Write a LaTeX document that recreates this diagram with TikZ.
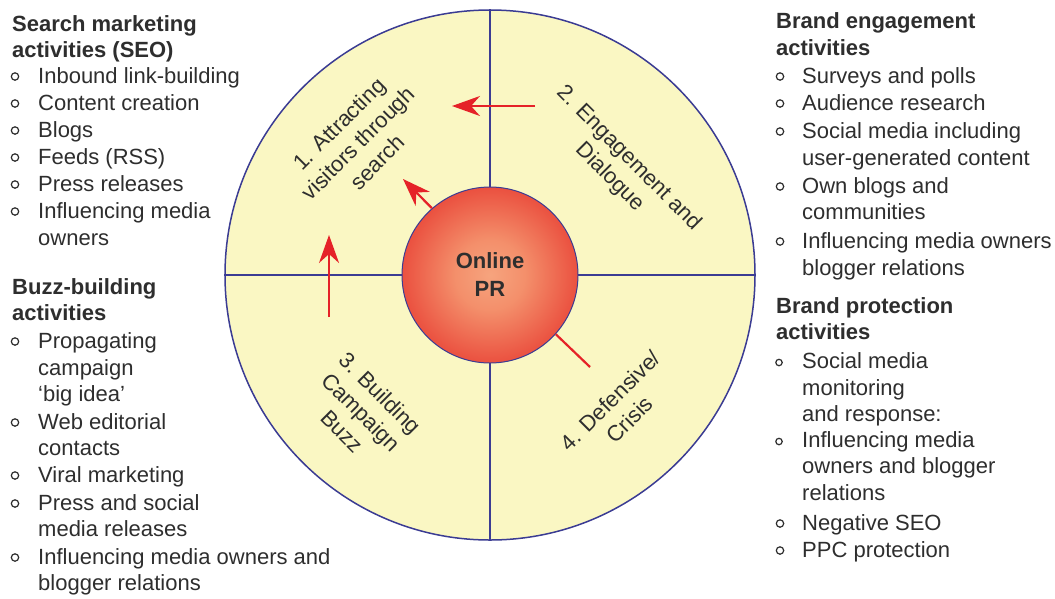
\documentclass[tikz,border=0pt]{standalone}
\usepackage{fontspec}
\setmainfont{Liberation Sans}
\usetikzlibrary{arrows.meta}
\definecolor{wheelfill}{HTML}{FAF7C3}
\definecolor{wheelline}{HTML}{3B3C93}
\definecolor{txt}{HTML}{2E2E2E}
\definecolor{arrowred}{HTML}{E52228}
\definecolor{prA}{HTML}{F6A47E}
\definecolor{prB}{HTML}{EE5E3E}
\definecolor{prC}{HTML}{E21F26}
\pgfdeclareradialshading{prshade}{\pgfpoint{0bp}{0bp}}{color(0bp)=(prA); color(10bp)=(prA!70!prB); color(30bp)=(prB!45!prC); color(50bp)=(prC)}
\tikzset{
  body/.style={font=\fontsize{22}{27}\selectfont, text=txt, inner sep=0pt, anchor=base west},
  head/.style={body, font=\fontsize{22}{27}\selectfont\bfseries},
  dot/.style={draw=txt, line width=1.2pt},
  phase/.style={font=\fontsize{22}{27}\selectfont, text=txt, align=center, inner sep=0pt},
  redarrow/.style={draw=arrowred, line width=2.2pt, -{Stealth[length=28pt,width=20pt,inset=9pt]}},
  redline/.style={draw=arrowred, line width=2.2pt},
}
\begin{document}
\begin{tikzpicture}[x=1pt, y=-1pt]
\fill[white] (0,0) rectangle (1055,598);
\useasboundingbox (0,0) rectangle (1055,598);

% wheel
\node[circle, minimum size=530pt, inner sep=0pt, draw=wheelline, fill=wheelfill, line width=1.5pt] (wheel) at (490,275) {};
\draw[wheelline, line width=1.3pt] (wheel.north) -- (wheel.south);
\draw[wheelline, line width=1.3pt] (wheel.west) -- (wheel.east);
\node[circle, minimum size=176pt, inner sep=0pt, draw=wheelline, line width=1pt, shade, shading=prshade, align=center, font=\fontsize{22}{28}\selectfont\bfseries, text=txt] (pr) at (490,275) {Online\\PR};

% phase labels
\node[phase, rotate=45] (p1) at (358,143) {1. Attracting\\visitors through\\search};
\node[phase, rotate=-45] (p2) at (619,168) {2. Engagement and\\Dialogue};
\node[phase, rotate=-45] (p3) at (361,412) {3. Building\\Campaign\\Buzz};
\node[phase, rotate=45] (p4) at (620,410) {4. Defensive/\\Crisis};

% arrows
\coordinate (a1s) at (535,106);
\coordinate (a1e) at (452,106);
\draw[redarrow] (a1s) -- (a1e);
\coordinate (a2e) at (403,179);
\draw[redarrow] (pr.131) -- (a2e);
\coordinate (a3s) at (329,317);
\coordinate (a3e) at (329,235);
\draw[redarrow] (a3s) -- (a3e);
\coordinate (a4e) at (590,367);
\draw[redline] (pr.-42) -- (a4e);

% left top block
\node[head] (lt1) at (12,31) {Search marketing};
\node[head] (lt2) at (12,57) {activities (SEO)};
\foreach \t/\y/\b [count=\i] in {Inbound link-building/83/1, Content creation/110/1, Blogs/137/1, Feeds (RSS)/164/1, Press releases/191/1, Influencing media/218/1, owners/245/0}{
  \node[body] (lti\i) at (38,\y) {\t};
  \ifnum\b=1 \draw[dot] (15,{\y-6.5}) circle[radius=3.7pt]; \fi
}

% left bottom block
\node[head] (lb1) at (12,294) {Buzz-building};
\node[head] (lb2) at (12,320) {activities};
\foreach \t/\y/\b [count=\i] in {Propagating/348/1, campaign/375/0, {‘big idea’}/401/0, Web editorial/429/1, contacts/455/0, Viral marketing/482/1, Press and social/510/1, media releases/536/0, Influencing media owners and/564/1, blogger relations/590/0}{
  \node[body] (lbi\i) at (38,\y) {\t};
  \ifnum\b=1 \draw[dot] (15,{\y-6.5}) circle[radius=3.7pt]; \fi
}

% right top block
\node[head] (rt1) at (776,28) {Brand engagement};
\node[head] (rt2) at (776,55) {activities};
\foreach \t/\y/\b [count=\i] in {Surveys and polls/83/1, Audience research/110/1, Social media including/138/1, user-generated content/165/0, Own blogs and/193/1, communities/219/0, Influencing media owners/248/1, blogger relations/275/0}{
  \node[body] (rti\i) at (802,\y) {\t};
  \ifnum\b=1 \draw[dot] (780,{\y-6.5}) circle[radius=3.7pt]; \fi
}

% right bottom block
\node[head] (rb1) at (776,313) {Brand protection};
\node[head] (rb2) at (776,339) {activities};
\foreach \t/\y/\b [count=\i] in {Social media/368/2, monitoring/395/0, and response:/421/0, Influencing media/447/2, owners and blogger/473/0, relations/500/0, Negative SEO/530/1, PPC protection/557/1}{
  \node[body] (rbi\i) at (802,\y) {\t};
  \ifnum\b=1 \draw[dot] (780,{\y-6.5}) circle[radius=3.7pt]; \fi
  \ifnum\b=2 \draw[dot] (779,{\y-5.5}) circle[radius=3.2pt]; \fi
}
\end{tikzpicture}
\end{document}
